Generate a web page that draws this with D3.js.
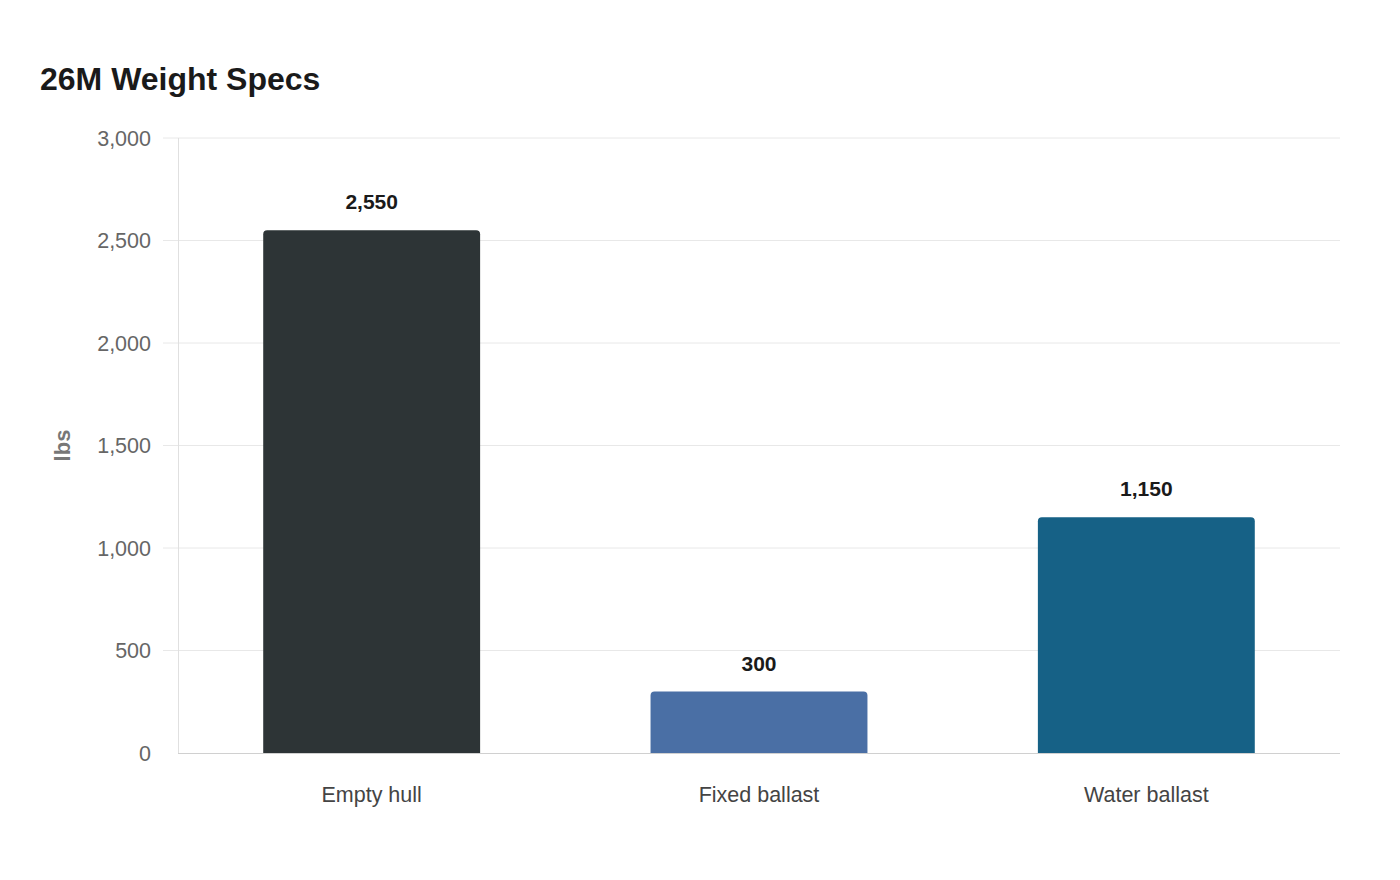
<!DOCTYPE html>
<html><head><meta charset="utf-8">
<script src="https://cdn.jsdelivr.net/npm/d3@7"></script>
<style>body{margin:0;background:#fff;} svg{display:block;font-family:"Liberation Sans",Arial,sans-serif;}</style>
</head><body>
<script>
const categories = ["Empty hull", "Fixed ballast", "Water ballast"];
const values = [2550, 300, 1150];
const colors = ["#2d3436", "#4a6fa5", "#166186"];
const yTicks = [0, 500, 1000, 1500, 2000, 2500, 3000];
const title = "26M Weight Specs";
const yLabel = "lbs";

const W = 1400, H = 880;
const m = {left: 178, right: 60, top: 138, bottom: 127};
const svg = d3.select("body").append("svg").attr("width", W).attr("height", H);
svg.append("rect").attr("width", W).attr("height", H).attr("fill", "#fff");

const x = d3.scaleBand().domain(categories).range([m.left, W - m.right]).paddingInner(0.44).paddingOuter(0.22);
const y = d3.scaleLinear().domain([0, 3000]).range([H - m.bottom, m.top]);
const fmt = d3.format(",");

// gridlines
svg.append("g").selectAll("line").data(yTicks.filter(d => d > 0)).join("line")
  .attr("x1", m.left - 15).attr("x2", W - m.right)
  .attr("y1", d => y(d)).attr("y2", d => y(d))
  .attr("stroke", "#e8e8e8").attr("stroke-width", 1);

// y axis line
svg.append("line").attr("x1", m.left + 0.5).attr("x2", m.left + 0.5)
  .attr("y1", m.top).attr("y2", y(0)).attr("stroke", "#e0e0e0");

// y tick labels
svg.append("g").selectAll("text").data(yTicks).join("text")
  .attr("x", m.left - 27).attr("y", d => y(d)).attr("dy", "0.35em")
  .attr("text-anchor", "end").attr("font-size", 21.5).attr("fill", "#666")
  .text(d => fmt(d));

// y label
svg.append("text").attr("transform", `translate(70,${(m.top + y(0)) / 2}) rotate(-90)`)
  .attr("text-anchor", "middle").attr("font-size", 22).attr("font-weight", "bold")
  .attr("fill", "#777").text(yLabel);

// bars with rounded top corners
const r = 4;
function barPath(x0, y0, w, h) {
  const rr = Math.min(r, h);
  return `M${x0},${y0 + h}V${y0 + rr}Q${x0},${y0} ${x0 + rr},${y0}H${x0 + w - rr}Q${x0 + w},${y0} ${x0 + w},${y0 + rr}V${y0 + h}Z`;
}
const data = categories.map((c, i) => ({c, v: values[i], col: colors[i]}));
svg.append("g").selectAll("path").data(data).join("path")
  .attr("d", d => barPath(x(d.c), y(d.v), x.bandwidth(), y(0) - y(d.v)))
  .attr("fill", d => d.col);

// x axis line
svg.append("line").attr("x1", m.left).attr("x2", W - m.right)
  .attr("y1", y(0) + 0.5).attr("y2", y(0) + 0.5).attr("stroke", "#d0d0d0");

// value labels
svg.append("g").selectAll("text").data(data).join("text")
  .attr("x", d => x(d.c) + x.bandwidth() / 2).attr("y", d => y(d.v) - 21)
  .attr("text-anchor", "middle").attr("font-size", 21).attr("font-weight", "bold")
  .attr("fill", "#1a1a1a").text(d => fmt(d.v));

// category labels
svg.append("g").selectAll("text").data(categories).join("text")
  .attr("x", d => x(d) + x.bandwidth() / 2).attr("y", 802)
  .attr("text-anchor", "middle").attr("font-size", 21.5).attr("fill", "#444")
  .text(d => d);

// title
svg.append("text").attr("x", 40).attr("y", 90).attr("font-size", 32).attr("font-weight", "bold")
  .attr("fill", "#1a1a1a").text(title);
</script>
</body></html>
